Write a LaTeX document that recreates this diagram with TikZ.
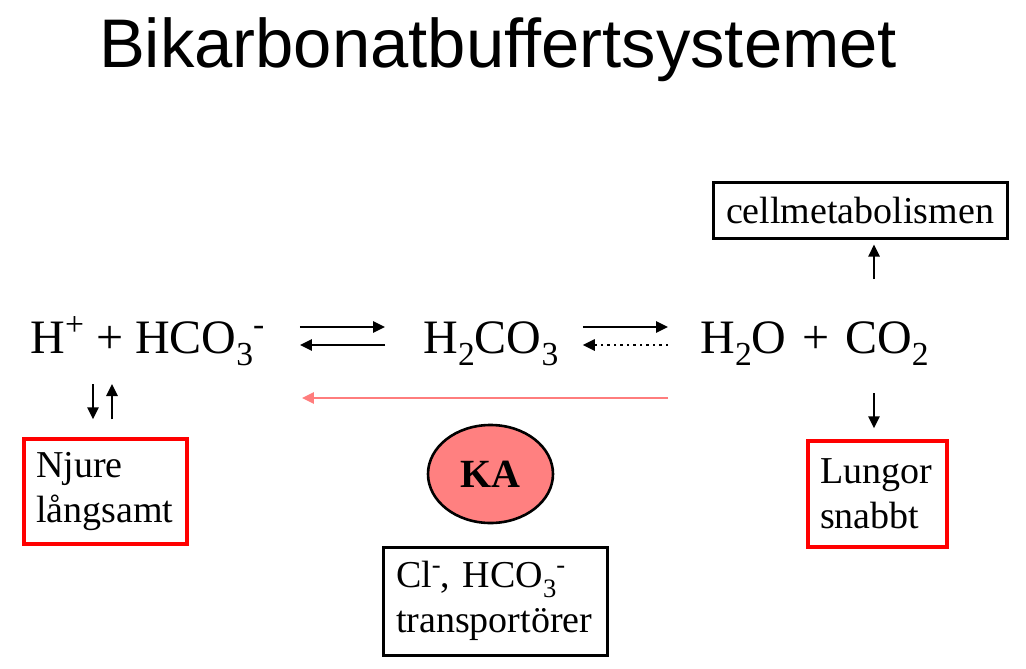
\documentclass[tikz,border=0pt]{standalone}
\usepackage{fontspec}
\setmainfont{Liberation Serif}
\newfontfamily\titlefont{Liberation Sans}
\usetikzlibrary{positioning,arrows.meta,shapes.geometric}
\usepackage{xcolor}
\definecolor{kafill}{RGB}{255,128,128}
\definecolor{kaline}{RGB}{255,125,125}
\newcommand{\chsub}[1]{\raisebox{-0.25em}{\scalebox{0.7}{#1}}}
\newcommand{\chsup}[1]{\raisebox{0.36em}{\scalebox{0.7}{#1}}}

\begin{document}
\begin{tikzpicture}[
      x=0.5pt, y=-0.5pt,
      chem/.style={inner sep=0pt,font=\fontsize{24}{29}\selectfont},
      box/.style={draw,line width=1.5pt,inner xsep=6pt,inner ysep=0pt,align=left,font=\fontsize{19}{22.5}\selectfont},
      redbox/.style={box,draw=red,line width=1.7pt},
      link/.style={-{Triangle[length=6pt,width=5.5pt]},line width=1.25pt},
      back/.style={link,dotted}
    ]
      \useasboundingbox (0,0) rectangle (1026,668);
      \node[anchor=base,font=\fontsize{34.4}{40}\titlefont] (title) at (498,68) {Bikarbonatbuffertsystemet};
      % the three sides of the equilibrium
      \node[chem,anchor=base west] (ions) at (30,353) {H\chsup{+} + HCO\chsub{3}\chsup{-}};
      \node[chem,anchor=base west] (acid) at (423,353) {H\chsub{2}CO\chsub{3}};
      \node[chem,anchor=base west] (gas) at (700,353) {H\chsub{2}O\hspace{0.33em}+\hspace{0.33em}CO\chsub{2}};
      \draw[link,shorten <=17.5pt,shorten >=19pt] ([yshift=13pt]ions.base east) -- ([yshift=13pt]acid.base west);
      \draw[link,shorten <=19pt,shorten >=17.5pt] ([yshift=4pt]acid.base west) -- ([yshift=4pt]ions.base east);
      \draw[link,shorten <=12pt,shorten >=16pt] ([yshift=13pt]acid.base east) -- ([yshift=13pt]gas.base west);
      \draw[back,shorten <=16pt,shorten >=12pt] ([yshift=4pt]gas.base west) -- ([yshift=4pt]acid.base east);
      \draw[link,kaline,shorten <=16pt,shorten >=18.5pt] ([yshift=-22.5pt]gas.base west) -- ([yshift=-22.5pt]ions.base east);
      % boxes
      \node[box,minimum width=147pt,minimum height=27.5pt,align=center] (cell) at (860,210.5) {cellmetabolismen};
      \node[redbox,minimum width=81.5pt,minimum height=52.5pt,text width=69.5pt] (njure) at (105.5,491.5) {Njure\\långsamt};
      \node[redbox,minimum width=69.5pt,minimum height=53pt,text width=57.5pt] (lung) at (877.5,494) {Lungor\\snabbt};
      \node[draw,ellipse,line width=1.3pt,fill=kafill,inner sep=0pt,minimum width=62.5pt,minimum height=49pt,font=\fontsize{20}{24}\selectfont\bfseries] (ka) at (490.5,474) {KA};
      \node[box,minimum width=112pt,minimum height=54pt,text width=99pt] (trans) at (495,601) {Cl\chsup{-}, HCO\chsub{3}\chsup{-}\\transportörer};
      % vertical arrows
      \coordinate (up) at (874,279);
      \coordinate (dn) at (874,393);
      \coordinate (nd) at (93,384);
      \coordinate (nu) at (112,384);
      \draw[link] (up) -- ([yshift=-2.5pt]up |- cell.south);
      \draw[link] (dn) -- ([yshift=5.5pt]dn |- lung.north);
      \draw[link] (nd) -- ([yshift=9pt]nd |- njure.north);
      \draw[link] ([yshift=9pt]nu |- njure.north) -- (nu);
    \end{tikzpicture}
\end{document}
